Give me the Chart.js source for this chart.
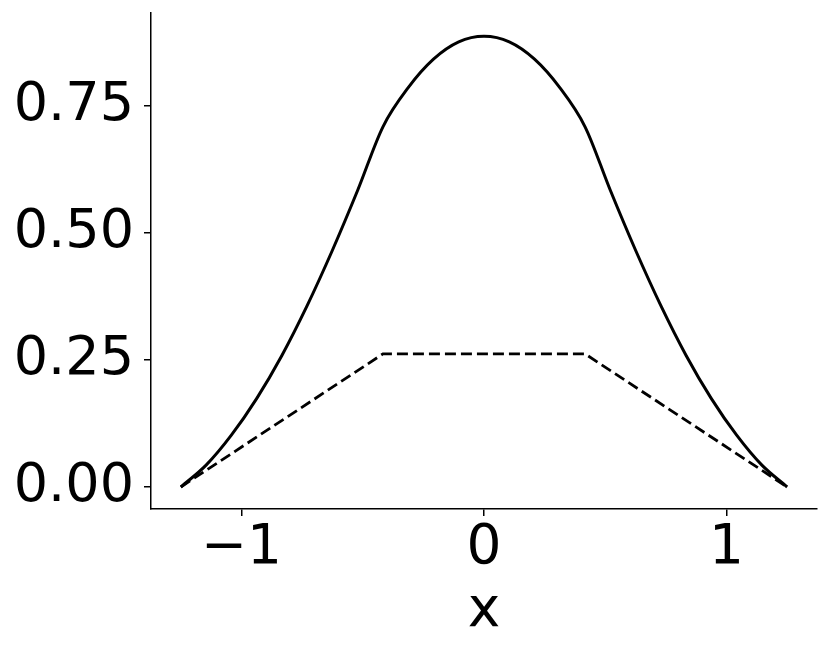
<!DOCTYPE html>
<html><head><meta charset="utf-8">
<script src="https://cdn.jsdelivr.net/npm/chart.js@4/dist/chart.umd.min.js"></script>
<style>html,body{margin:0;padding:0;background:#fff}canvas{display:block}</style>
</head><body>
<canvas id="c" width="831" height="652"></canvas>
<script>
// x positions of the solid curve samples
const xValues = [-1.25, -1.1458, -1.0417, -0.9375, -0.8333, -0.7292, -0.625, -0.5208, -0.4167, -0.3125, -0.2083, -0.1042, 0,
                 0.1042, 0.2083, 0.3125, 0.4167, 0.5208, 0.625, 0.7292, 0.8333, 0.9375, 1.0417, 1.1458, 1.25];
// solid curve values
const solidValues = [0, 0.043, 0.102, 0.174, 0.259, 0.357, 0.466, 0.584, 0.709, 0.786, 0.842, 0.876, 0.887,
                     0.876, 0.842, 0.786, 0.709, 0.584, 0.466, 0.357, 0.259, 0.174, 0.102, 0.043, 0];
// dashed curve
const dashedX = [-1.25, -0.4167, 0, 0.4167, 1.25];
const dashedValues = [0, 0.262, 0.262, 0.262, 0];
const xTicks = [-1, 0, 1];
const yTicks = [0, 0.25, 0.5, 0.75];
const xTitle = 'x';

const FONT = 'DejaVu Sans';
const solidData = xValues.map((x, i) => ({x: x, y: solidValues[i]}));
const dashedData = dashedX.map((x, i) => ({x: x, y: dashedValues[i]}));

new Chart(document.getElementById('c'), {
  type: 'line',
  data: {
    datasets: [
      {data: solidData, borderColor: '#000', borderWidth: 3, pointRadius: 0, cubicInterpolationMode: 'monotone', fill: false},
      {data: dashedData, borderColor: '#000', borderWidth: 2.8, borderDash: [11, 5], pointRadius: 0, tension: 0, fill: false}
    ]
  },
  options: {
    responsive: false,
    animation: false,
    events: [],
    layout: {padding: {top: 13, right: 14, left: 0, bottom: 0}},
    plugins: {legend: {display: false}, tooltip: {enabled: false}},
    scales: {
      x: {
        type: 'linear', min: -1.373, max: 1.373,
        afterBuildTicks: s => { s.ticks = xTicks.map(v => ({value: v})); },
        afterFit: s => { s.height = 143; s.paddingLeft = 0; s.paddingRight = 0; },
        grid: {display: true, drawOnChartArea: false, drawTicks: true, tickLength: 7, color: '#000', lineWidth: 1.5},
        border: {display: true, color: '#000', width: 1.5},
        ticks: {color: '#000', padding: 0, maxRotation: 0, autoSkip: false,
                font: {family: FONT, size: 55},
                callback: v => v < 0 ? '\u2212' + Math.abs(v) : String(v)},
        title: {display: true, text: xTitle, color: '#000', font: {family: FONT, size: 55, lineHeight: 1.2}, padding: {top: 0, bottom: 7}}
      },
      y: {
        type: 'linear', min: -0.0433, max: 0.933,
        afterBuildTicks: s => { s.ticks = yTicks.map(v => ({value: v})); },
        afterFit: s => { s.width = 151; s.paddingTop = 0; s.paddingBottom = 0; },
        grid: {display: true, drawOnChartArea: false, drawTicks: true, tickLength: 7, color: '#000', lineWidth: 1.5},
        border: {display: true, color: '#000', width: 1.5},
        ticks: {color: '#000', padding: 10, autoSkip: false,
                font: {family: FONT, size: 54},
                callback: v => Number(v).toFixed(2)}
      }
    }
  }
});
</script>
</body></html>
